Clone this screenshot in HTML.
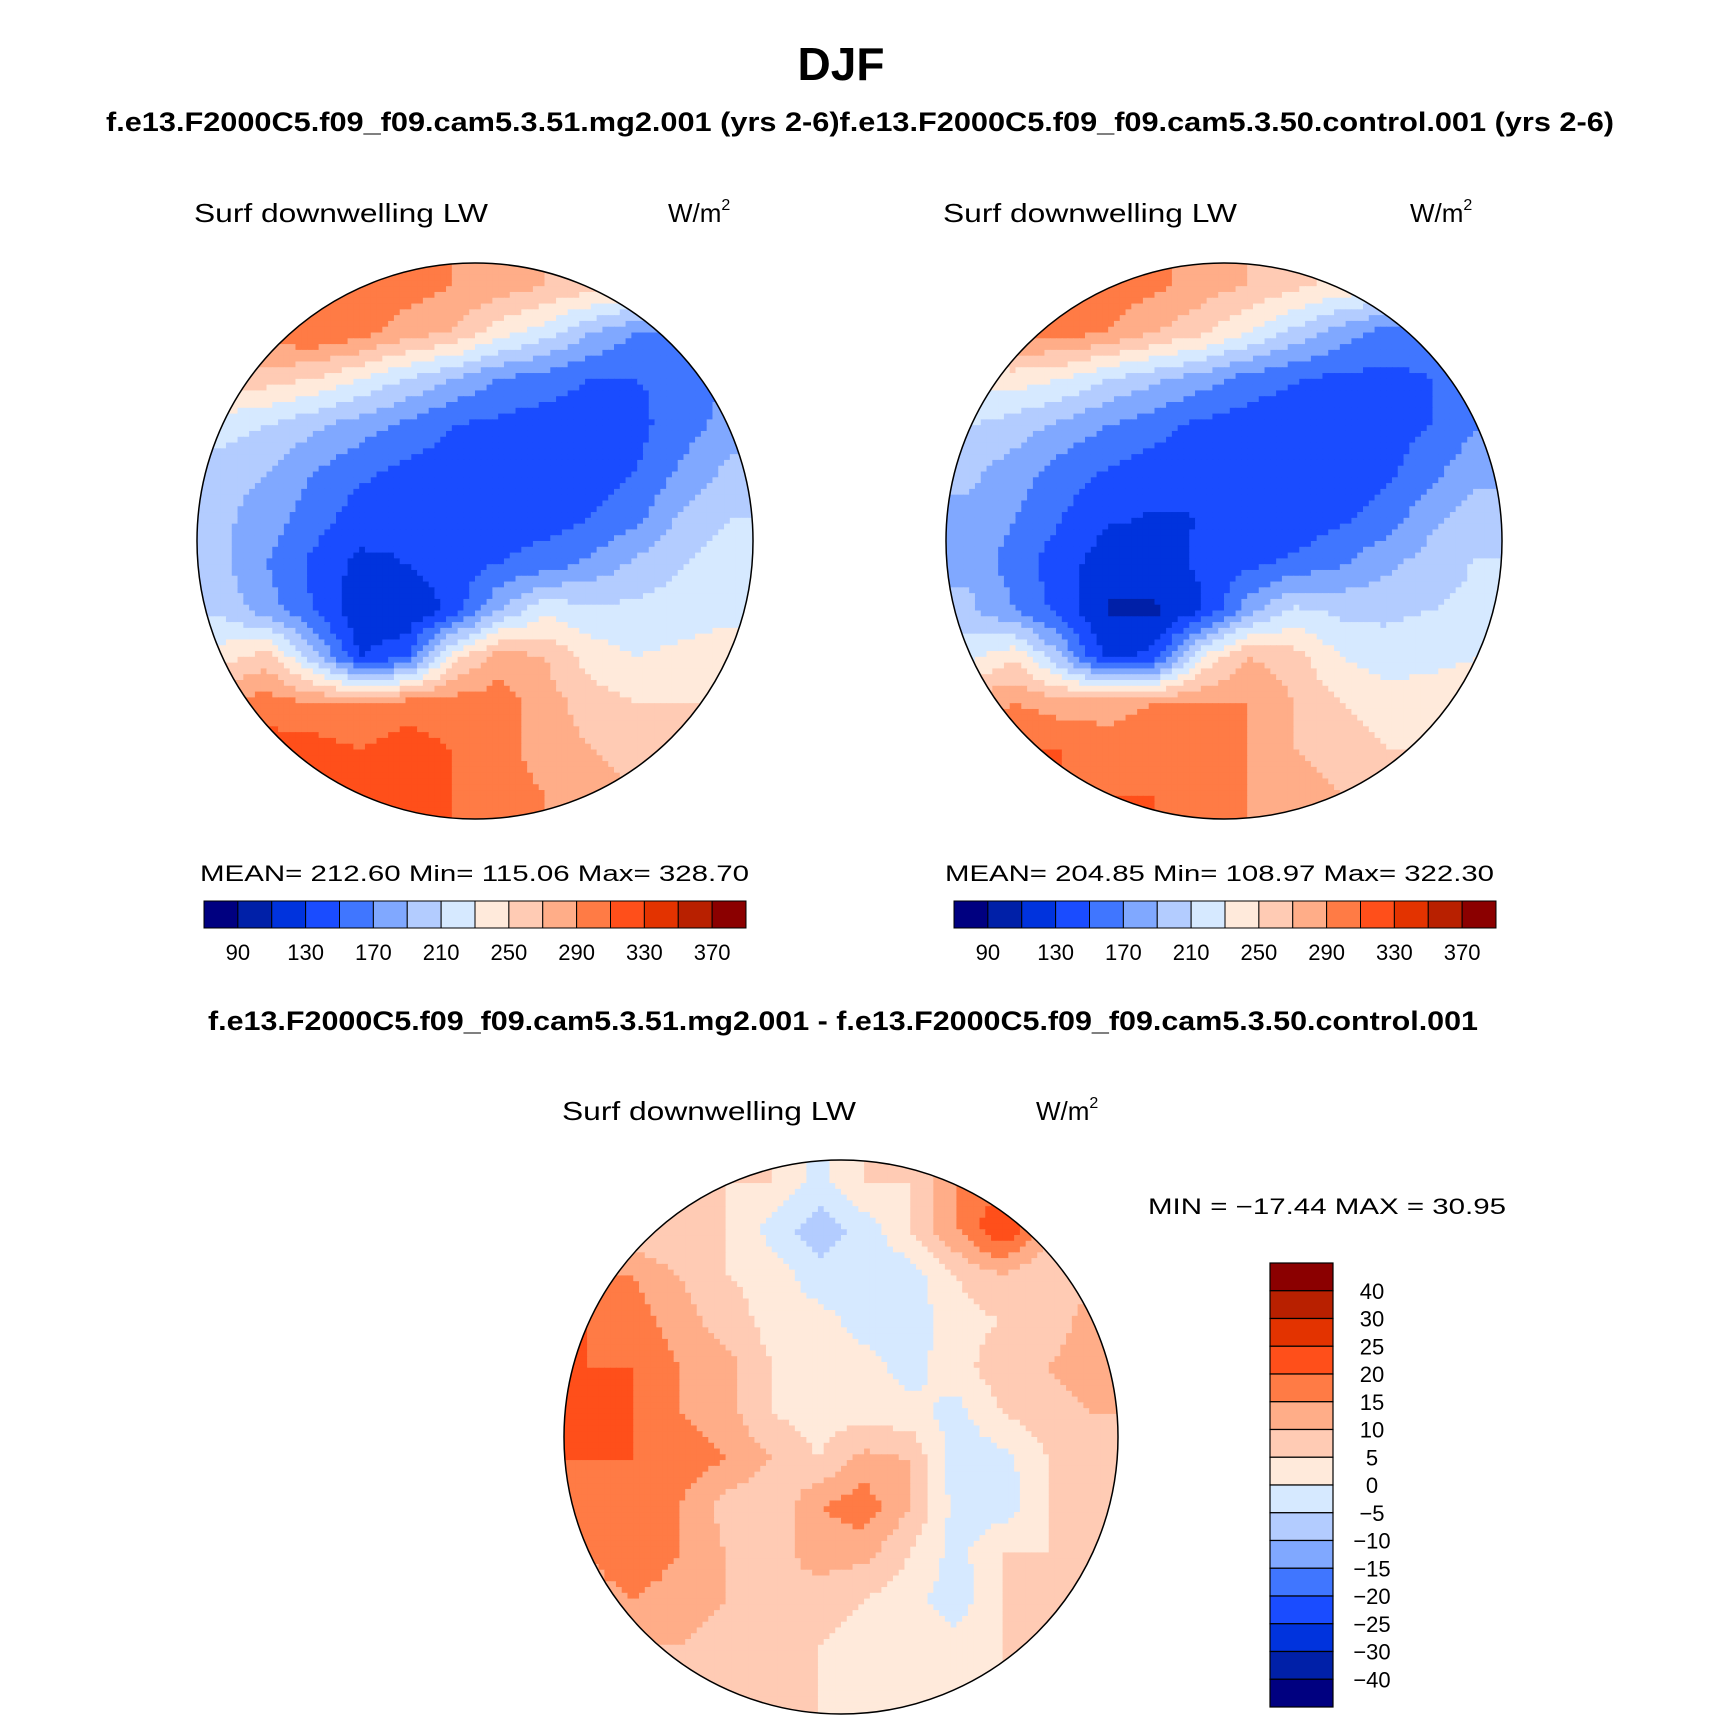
<!DOCTYPE html>
<html><head><meta charset="utf-8"><style>
html,body{margin:0;padding:0;background:#fff}
svg{display:block;font-family:"Liberation Sans",sans-serif}
</style></head><body>
<svg id="fig" width="1710" height="1727" viewBox="0 0 1710 1727" xmlns="http://www.w3.org/2000/svg">
<defs>
<clipPath id="c1"><circle cx="475" cy="541" r="278"/></clipPath>
<clipPath id="c2"><circle cx="1224" cy="541" r="278"/></clipPath>
<clipPath id="c3"><circle cx="841" cy="1437" r="277"/></clipPath>
</defs>
<text x="841" y="80" text-anchor="middle" font-size="46" font-weight="bold">DJF</text>
<text x="106" y="131" font-size="27" font-weight="bold" textLength="1508" lengthAdjust="spacingAndGlyphs">f.e13.F2000C5.f09_f09.cam5.3.51.mg2.001 (yrs 2-6)f.e13.F2000C5.f09_f09.cam5.3.50.control.001 (yrs 2-6)</text>

<text x="194" y="222" font-size="26" textLength="294" lengthAdjust="spacingAndGlyphs">Surf  downwelling  LW</text>
<text x="668" y="222" font-size="26">W/m<tspan dy="-12" font-size="16">2</tspan></text>
<text x="943" y="222" font-size="26" textLength="294" lengthAdjust="spacingAndGlyphs">Surf  downwelling  LW</text>
<text x="1410" y="222" font-size="26">W/m<tspan dy="-12" font-size="16">2</tspan></text>

<g id="m1" clip-path="url(#c1)"></g>
<circle cx="475" cy="541" r="278" fill="none" stroke="#000" stroke-width="1.5"/>
<g id="m2" clip-path="url(#c2)"></g>
<circle cx="1224" cy="541" r="278" fill="none" stroke="#000" stroke-width="1.5"/>

<text x="200" y="881" font-size="22" textLength="549" lengthAdjust="spacingAndGlyphs">MEAN=  212.60    Min=  115.06    Max=  328.70</text>
<text x="945" y="881" font-size="22" textLength="549" lengthAdjust="spacingAndGlyphs">MEAN=  204.85    Min=  108.97    Max=  322.30</text>
<g id="cb1"></g>
<g id="cb2"></g>

<text x="208" y="1030" font-size="27" font-weight="bold" textLength="1270" lengthAdjust="spacingAndGlyphs">f.e13.F2000C5.f09_f09.cam5.3.51.mg2.001 - f.e13.F2000C5.f09_f09.cam5.3.50.control.001</text>
<text x="562" y="1120" font-size="26" textLength="294" lengthAdjust="spacingAndGlyphs">Surf  downwelling  LW</text>
<text x="1036" y="1120" font-size="26">W/m<tspan dy="-12" font-size="16">2</tspan></text>
<text x="1148" y="1214" font-size="22" textLength="358" lengthAdjust="spacingAndGlyphs">MIN  =  −17.44  MAX  =    30.95</text>
<g id="m3" clip-path="url(#c3)"></g>
<circle cx="841" cy="1437" r="277" fill="none" stroke="#000" stroke-width="1.5"/>
<g id="cb3"></g>
</svg>
<script>
const colors=["#000080","#0020a8","#0033dd","#1a4cff","#4076ff","#80a8ff","#b3ccff","#d6e9ff","#ffeadb","#ffcbb4","#ffad88","#ff7b45","#ff4f1a","#e33300","#b82000","#8b0000"];
const absLevels=[90,110,130,150,170,190,210,230,250,270,290,310,330,350,370];
const absTickLabels=["90","130","170","210","250","290","330","370"];
const diffLevels=[-40,-30,-25,-20,-15,-10,-5,0,5,10,15,20,25,30,40];
const diffTickLabels=["40","30","25","20","15","10","5","0","−5","−10","−15","−20","−25","−30","−40"];
const field1=[
[300,300,310,310,300,290,280,270,260,250,230,220],
[290,300,310,300,280,270,240,220,190,170,165,170],
[260,260,250,230,210,190,170,160,150,150,155,170],
[220,210,195,180,165,150,145,140,140,145,160,180],
[200,190,170,155,145,140,138,135,138,150,175,195],
[195,180,160,140,135,135,138,140,150,165,195,210],
[195,170,145,125,130,140,150,160,175,195,210,220],
[205,180,150,115,112,135,190,225,215,215,220,225],
[240,260,200,130,145,240,280,270,240,230,235,240],
[290,300,290,290,300,300,300,280,260,250,250,250],
[310,320,320,310,320,310,300,280,270,260,260,260],
[320,320,320,320,320,310,300,290,280,270,270,270]];
const field2=[
[300,300,310,300,295,280,270,255,245,235,220,210],
[280,295,300,290,270,255,230,205,180,162,158,160],
[240,240,230,210,195,180,162,152,145,145,150,160],
[210,200,185,170,158,145,140,135,135,140,150,170],
[195,180,160,148,140,135,132,130,132,145,165,185],
[185,170,150,133,128,130,133,135,145,160,185,200],
[185,160,138,118,122,133,145,155,168,185,200,212],
[195,170,142,108,106,128,180,215,205,205,210,215],
[225,245,190,122,138,230,270,260,230,220,225,230],
[280,290,280,280,290,290,290,270,250,240,240,240],
[300,310,310,300,310,300,290,270,260,250,250,250],
[310,310,310,310,310,300,290,280,270,260,260,260]];
const field3=[
[5,5,5,5,5,-2,5,5,15,20,10,5],
[5,5,5,5,-2,-8,-3,5,15,25,12,5],
[15,15,10,5,3,-3,-3,-3,5,10,5,10],
[20,18,12,8,3,2,-2,-3,3,5,8,12],
[20,20,15,12,5,3,2,-2,3,8,10,12],
[22,20,15,12,5,3,3,2,-2,5,8,10],
[20,20,18,15,10,5,12,10,-3,-2,5,8],
[18,20,15,8,5,15,18,10,-2,-3,5,8],
[15,20,15,10,8,12,12,5,-2,5,5,5],
[12,15,12,10,10,8,5,2,-3,5,5,5],
[10,10,10,8,8,5,3,2,2,5,5,5],
[8,8,8,8,5,5,3,3,3,5,5,5]];
const NS="http://www.w3.org/2000/svg";
function colorFor(v,levels){let i=0;while(i<levels.length&&v>=levels[i])i++;return colors[i];}
function sample(f,gx,gy){const n=f.length;gx=Math.max(0,Math.min(n-1,gx));gy=Math.max(0,Math.min(n-1,gy));
const x0=Math.floor(gx),y0=Math.floor(gy),x1=Math.min(n-1,x0+1),y1=Math.min(n-1,y0+1),fx=gx-x0,fy=gy-y0;
return (f[y0][x0]*(1-fx)+f[y0][x1]*fx)*(1-fy)+(f[y1][x0]*(1-fx)+f[y1][x1]*fx)*fy;}
function drawMap(gid,f,levels,cx,cy,r){
const g=document.getElementById(gid);const n=f.length;const sub=8;const N=n*sub;const size=2*r/N;
for(let j=0;j<N;j++)for(let i=0;i<N;i++){
const gx=(i+0.5)/sub-0.5,gy=(j+0.5)/sub-0.5;const v=sample(f,gx,gy);
const el=document.createElementNS(NS,"rect");


el.setAttribute("x",(cx-r+i*size).toFixed(2));el.setAttribute("y",(cy-r+j*size).toFixed(2));
el.setAttribute("width",(size+0.6).toFixed(2));el.setAttribute("height",(size+0.6).toFixed(2));
el.setAttribute("fill",colorFor(v,levels));g.appendChild(el);}}
drawMap("m1",field1,absLevels,475,541,278);
drawMap("m2",field2,absLevels,1224,541,278);
drawMap("m3",field3,diffLevels,841,1437,277);
function hBar(gid,x0,x1,y0,y1){
const g=document.getElementById(gid);const w=(x1-x0)/colors.length;
colors.forEach((c,i)=>{const el=document.createElementNS(NS,"rect");


el.setAttribute("x",x0+i*w);el.setAttribute("y",y0);el.setAttribute("width",w);el.setAttribute("height",y1-y0);
el.setAttribute("fill",c);el.setAttribute("stroke","#000");el.setAttribute("stroke-width","1");g.appendChild(el);});
absTickLabels.forEach((t,k)=>{const el=document.createElementNS(NS,"text");


el.setAttribute("x",x0+(1+2*k)*w);el.setAttribute("y",y1+32);el.setAttribute("text-anchor","middle");el.setAttribute("font-size","22");
el.textContent=t;g.appendChild(el);});}
hBar("cb1",204,746,901,928);
hBar("cb2",954,1496,901,928);
(function(){const g=document.getElementById("cb3");const x0=1270,x1=1333,y0=1263,y1=1707;const h=(y1-y0)/colors.length;
colors.slice().reverse().forEach((c,i)=>{const el=document.createElementNS(NS,"rect");


el.setAttribute("x",x0);el.setAttribute("y",y0+i*h);el.setAttribute("width",x1-x0);el.setAttribute("height",h);
el.setAttribute("fill",c);el.setAttribute("stroke","#000");el.setAttribute("stroke-width","1.2");g.appendChild(el);});
diffTickLabels.forEach((t,k)=>{const el=document.createElementNS(NS,"text");


el.setAttribute("x",1372);el.setAttribute("y",y0+(k+1)*h+8);el.setAttribute("text-anchor","middle");el.setAttribute("font-size","22");
el.textContent=t;g.appendChild(el);});})();
</script>
</body></html>
